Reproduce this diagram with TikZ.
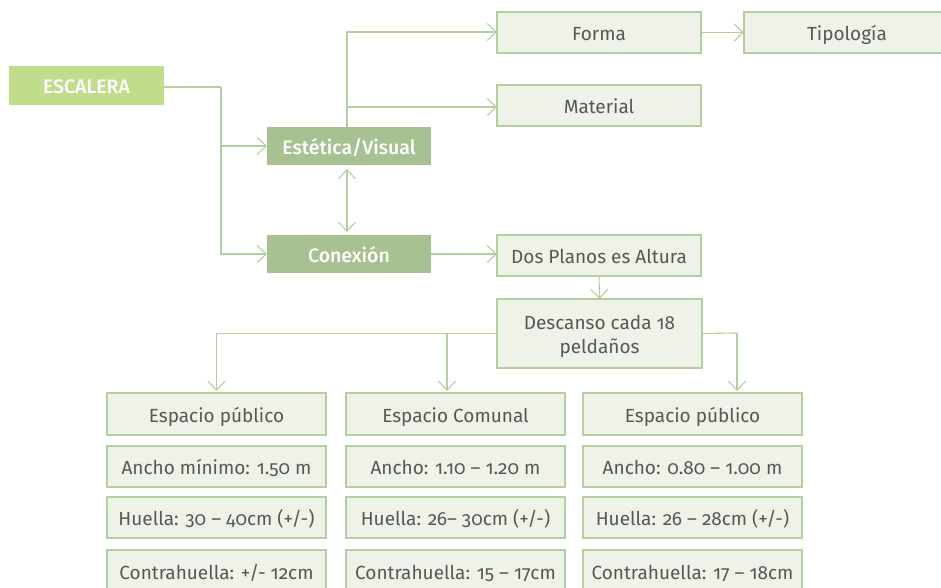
\documentclass[tikz,border=0pt]{standalone}
\usepackage{fontspec}
\setmainfont{Fira Sans}[Numbers=OldStyle, BoldFont={Fira Sans Medium}]
\usetikzlibrary{arrows.meta}
\definecolor{lineG}{HTML}{B3CF9E}
\definecolor{boxF}{HTML}{EEF2E8}
\definecolor{rootF}{HTML}{C1DC8B}
\definecolor{midF}{HTML}{A8C192}
\definecolor{txtG}{HTML}{555955}
\tikzset{
  x=1pt, y=-1pt,
  every node/.style={inner sep=0pt, outer sep=0pt, font=\fontsize{19}{24}\selectfont, align=center},
  oneline/.style={text height=16pt, text depth=0pt},
  leaf/.style={draw=lineG, line width=1.1pt, fill=boxF, text=txtG, oneline},
  rootbox/.style={fill=rootF, text=white, oneline, font=\fontsize{19.5}{24}\selectfont\bfseries},
  midbox/.style={fill=midF, text=white, oneline, font=\fontsize{19.5}{24}\selectfont\bfseries},
  sz/.style 2 args={minimum width=#1pt, minimum height=#2pt},
  conn/.style={draw=lineG, line width=1.1pt},
  arr/.style={conn, -{Straight Barb[length=9pt, width=17pt, line width=1.1pt]}},
  darr/.style={conn, {Straight Barb[length=9pt, width=17pt, line width=1.1pt]}-{Straight Barb[length=9pt, width=17pt, line width=1.1pt]}},
}
\begin{document}
\begin{tikzpicture}
\useasboundingbox (0,0) rectangle (941,588);
\clip (0,0) rectangle (941,588);

% top part
\node[rootbox, sz={155}{39}] (esc) at (86.5,85.5) {ESCALERA};
\node[midbox, sz={164}{38}] (est) at (349,146) {Estética/Visual};
\node[midbox, sz={164}{38}] (con) at (349,254) {Conexión};
\node[leaf, sz={204}{41}] (forma) at (599,32.5) {Forma};
\node[leaf, sz={206}{41}] (tipo) at (847,32.5) {Tipología};
\node[leaf, sz={204}{41}] (mat) at (599,105.5) {Material};
\node[leaf, sz={204}{41}] (dos) at (599,255.5) {Dos Planos es Altura};
\node[draw=lineG, line width=1.1pt, fill=boxF, sz={205}{69}] (desc) at (599.5,333.5) {};
\node[text=txtG] (desctxt) at (599.5,336.3) {Descanso cada 18\\peldaños};

% three columns of requirements
\node[leaf, sz={219}{42}] (a1) at (216.5,414) {Espacio público};
\node[leaf, sz={219}{41}] (a2) at (216.5,466.5) {Ancho mínimo: 1.50 m};
\node[leaf, sz={219}{41}] (a3) at (216.5,517.5) {Huella: 30 – 40cm (+/-)};
\node[leaf, sz={219}{42}] (a4) at (216.5,571) {Contrahuella: +/- 12cm};

\node[leaf, sz={219}{42}] (b1) at (455.5,414) {Espacio Comunal};
\node[leaf, sz={219}{41}] (b2) at (455.5,466.5) {Ancho: 1.10 – 1.20 m};
\node[leaf, sz={219}{41}] (b3) at (455.5,517.5) {Huella: 26– 30cm (+/-)};
\node[leaf, sz={219}{42}] (b4) at (455.5,571) {Contrahuella: 15 – 17cm};

\node[leaf, sz={219}{42}] (c1) at (692.5,414) {Espacio público};
\node[leaf, sz={219}{41}] (c2) at (692.5,466.5) {Ancho: 0.80 – 1.00 m};
\node[leaf, sz={219}{41}] (c3) at (692.5,517.5) {Huella: 26 – 28cm (+/-)};
\node[leaf, sz={219}{42}] (c4) at (692.5,571) {Contrahuella: 17 – 18cm};

% junction points
\coordinate (j1) at (221,87);
\coordinate (j2) at (347,32);
\coordinate (j5) at (347,107);
\coordinate (j3) at (447,333);
\coordinate (j4) at (737,333);

% connectors
\draw[conn] (esc.east |- j1) -- (j1);
\draw[arr] (j1) |- (est.west);
\draw[arr] (j1) |- (con.west);
\draw[arr] (est.north -| j2) -- (j2) -- (j2 -| forma.west);
\draw[arr] (j5) -- (j5 -| mat.west);
\draw[arr] (forma.east) -- (tipo.west);
\draw[darr, shorten <=4pt, shorten >=3pt] (est.south -| j2) -- (con.north -| j2);
\draw[arr] (con.east) -- (dos.west |- con.east);
\draw[arr] (dos.south) -- (desc.north);
\draw[arr, shorten >=2pt] (desc.west) -| (a1.north);
\draw[arr, shorten >=2pt] (j3) -- (j3 |- b1.north);
\draw[conn] (desc.east) -- (j4);
\draw[arr, shorten >=2pt] (j4) -- (j4 |- c1.north);
\end{tikzpicture}
\end{document}
